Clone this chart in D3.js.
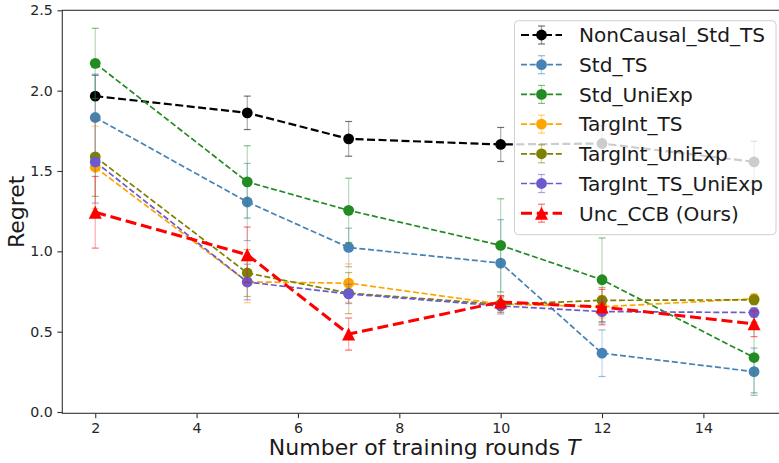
<!DOCTYPE html>
<html>
<head>
<meta charset="utf-8">
<script src="https://cdn.jsdelivr.net/npm/d3@7"></script>
<style>
  body { margin: 0; background: #fff; }
  svg { display: block; font-family: "DejaVu Sans", sans-serif; }
</style>
</head>
<body>
<script>
// data
var rounds = [2, 5, 7, 10, 12, 15];
var seriesNames = ["NonCausal_Std_TS", "Std_TS", "Std_UniExp", "TargInt_TS", "TargInt_UniExp", "TargInt_TS_UniExp", "Unc_CCB (Ours)"];
var nonCausalStdTS = [1.966, 1.862, 1.700, 1.665, 1.671, 1.557];
var nonCausalStdTSErr = [0.13, 0.104, 0.108, 0.106, 0.11, 0.128];
var stdTS = [1.833, 1.307, 1.024, 0.927, 0.366, 0.251];
var stdTSErr = [0.27, 0.24, 0.12, 0.27, 0.145, 0.147];
var stdUniExp = [2.170, 1.432, 1.255, 1.037, 0.823, 0.339];
var stdUniExpErr = [0.218, 0.225, 0.2, 0.29, 0.26, 0.22];
var targIntTS = [1.523, 0.810, 0.802, 0.672, 0.655, 0.705];
var targIntTSErr = [0.256, 0.13, 0.12, 0.05, 0.07, 0.03];
var targIntUniExp = [1.588, 0.865, 0.740, 0.670, 0.695, 0.698];
var targIntUniExpErr = [0.246, 0.146, 0.128, 0.05, 0.08, 0.03];
var targIntTSUniExp = [1.557, 0.809, 0.735, 0.660, 0.625, 0.619];
var targIntTSUniExpErr = [0.257, 0.111, 0.06, 0.05, 0.07, 0.03];
var uncCCB = [1.243, 0.979, 0.485, 0.685, 0.653, 0.549];
var uncCCBErr = [0.223, 0.172, 0.1, 0.04, 0.11, 0.08];
var xTicks = [2, 4, 6, 8, 10, 12, 14];
var yTicks = [0.0, 0.5, 1.0, 1.5, 2.0, 2.5];

var seriesValues = [nonCausalStdTS, stdTS, stdUniExp, targIntTS, targIntUniExp, targIntTSUniExp, uncCCB];
var seriesErrors = [nonCausalStdTSErr, stdTSErr, stdUniExpErr, targIntTSErr, targIntUniExpErr, targIntTSUniExpErr, uncCCBErr];

// styles
var colors = ["#000000", "#4682b4", "#228b22", "#ffa500", "#808000", "#6a5acd", "#ff0000"];
var widths = [2.2, 1.7, 1.7, 1.7, 1.7, 1.7, 3];
var dashes = ["8,3.5", "6,2.7", "6,2.7", "6,2.7", "6,2.7", "6,2.7", "11,4.8"];

var W = 779, H = 463;
var mLeft = 62.3, mRight = 787, mTop = 10.3, mBottom = 413.3;

var x = d3.scaleLinear().domain([1.35, 15.65]).range([mLeft, mRight]);
var y = d3.scaleLinear().domain([-0.008, 2.5]).range([mBottom, mTop]);

var svg = d3.select("body").append("svg")
  .attr("width", W)
  .attr("height", H);

var series = seriesNames.map(function(name, i) {
  return {
    name: name, color: colors[i], width: widths[i], dash: dashes[i],
    tri: i === 6,
    points: rounds.map(function(r, j) {
      return {x: r, v: seriesValues[i][j], e: seriesErrors[i][j]};
    })
  };
});

function triPath(s) {
  var h = s / 2;
  return "M0," + (-h) + "L" + (-h) + "," + h + "L" + h + "," + h + "Z";
}

var line = d3.line()
  .x(function(d) { return x(d.x); })
  .y(function(d) { return y(d.v); });

var plot = svg.append("g");

series.forEach(function(s) {
  var g = plot.append("g");
  g.append("path")
    .attr("d", line(s.points))
    .attr("fill", "none")
    .attr("stroke", s.color)
    .attr("stroke-width", s.width)
    .attr("stroke-dasharray", s.dash);

  var eb = g.selectAll(".eb").data(s.points).enter().append("g");
  eb.append("line")
    .attr("x1", function(d) { return x(d.x); })
    .attr("x2", function(d) { return x(d.x); })
    .attr("y1", function(d) { return y(d.v - d.e); })
    .attr("y2", function(d) { return y(d.v + d.e); })
    .attr("stroke", s.color)
    .attr("stroke-opacity", 0.3)
    .attr("stroke-width", 1.3);
  [-1, 1].forEach(function(sg) {
    eb.append("line")
      .attr("x1", function(d) { return x(d.x) - 3.5; })
      .attr("x2", function(d) { return x(d.x) + 3.5; })
      .attr("y1", function(d) { return y(d.v + sg * d.e); })
      .attr("y2", function(d) { return y(d.v + sg * d.e); })
      .attr("stroke", s.color)
      .attr("stroke-opacity", 0.55)
      .attr("stroke-width", 1.2);
  });

  if (s.tri) {
    g.selectAll(".m").data(s.points).enter().append("path")
      .attr("d", triPath(13))
      .attr("transform", function(d) { return "translate(" + x(d.x) + "," + y(d.v) + ")"; })
      .attr("fill", s.color);
  } else {
    g.selectAll(".m").data(s.points).enter().append("circle")
      .attr("cx", function(d) { return x(d.x); })
      .attr("cy", function(d) { return y(d.v); })
      .attr("r", 5.4)
      .attr("fill", s.color);
  }
});

// axes
var xAxis = svg.append("g")
  .attr("transform", "translate(0," + mBottom + ")")
  .call(d3.axisBottom(x).tickValues(xTicks).tickSize(4.9).tickPadding(4.5).tickFormat(d3.format("d")));
var yAxis = svg.append("g")
  .attr("transform", "translate(" + mLeft + ",0)")
  .call(d3.axisLeft(y).tickValues(yTicks).tickSize(4.9).tickPadding(4.5).tickFormat(d3.format(".1f")));

[xAxis, yAxis].forEach(function(a) {
  a.select(".domain").remove();
  a.selectAll(".tick line").attr("stroke", "#333").attr("stroke-width", 1.1);
  a.selectAll(".tick text").attr("fill", "#262626")
    .style("font-size", "14.2px").style("font-family", "DejaVu Sans");
});

// frame
svg.append("rect")
  .attr("x", mLeft).attr("y", mTop)
  .attr("width", mRight - mLeft).attr("height", mBottom - mTop)
  .attr("fill", "none")
  .attr("stroke", "#333")
  .attr("stroke-width", 1.1);

// axis labels
var xl = svg.append("text")
  .attr("x", (mLeft + mRight) / 2)
  .attr("y", 455)
  .attr("text-anchor", "middle")
  .attr("fill", "#1a1a1a")
  .style("font-size", "22px");
xl.append("tspan").text("Number of training rounds ");
xl.append("tspan").attr("font-style", "italic").text("T");

svg.append("text")
  .attr("transform", "translate(24," + ((mTop + mBottom) / 2) + ") rotate(-90)")
  .attr("text-anchor", "middle")
  .attr("fill", "#1a1a1a")
  .style("font-size", "22px")
  .text("Regret");

// legend
var lg = svg.append("g");
lg.append("rect")
  .attr("x", 514.5).attr("y", 20.7)
  .attr("width", 261.5).attr("height", 214)
  .attr("rx", 4)
  .attr("fill", "#fff")
  .attr("fill-opacity", 0.8)
  .attr("stroke", "#d0d0d0")
  .attr("stroke-width", 1);

var rows = lg.selectAll(".row").data(series).enter().append("g")
  .attr("transform", function(d, i) { return "translate(0," + (35 + i * 29.7) + ")"; });

rows.append("line")
  .attr("x1", 521).attr("x2", 562)
  .attr("stroke", function(d) { return d.color; })
  .attr("stroke-width", function(d) { return d.width; })
  .attr("stroke-dasharray", function(d) { return d.dash; });
rows.append("line")
  .attr("x1", 541.5).attr("x2", 541.5).attr("y1", -9).attr("y2", 9)
  .attr("stroke", function(d) { return d.color; })
  .attr("stroke-opacity", 0.35).attr("stroke-width", 1.3);
[-9, 9].forEach(function(cy) {
  rows.append("line")
    .attr("x1", 538).attr("x2", 545).attr("y1", cy).attr("y2", cy)
    .attr("stroke", function(d) { return d.color; })
    .attr("stroke-opacity", 0.55).attr("stroke-width", 1.2);
});
rows.each(function(d) {
  var r = d3.select(this);
  if (d.tri) {
    r.append("path").attr("d", triPath(13)).attr("transform", "translate(541.5,0)").attr("fill", d.color);
  } else {
    r.append("circle").attr("cx", 541.5).attr("cy", 0).attr("r", 5.4).attr("fill", d.color);
  }
});
rows.append("text")
  .attr("x", 579)
  .attr("y", 7.3)
  .attr("fill", "#1a1a1a")
  .style("font-size", "20.1px")
  .text(function(d) { return d.name; });
</script>
</body>
</html>
